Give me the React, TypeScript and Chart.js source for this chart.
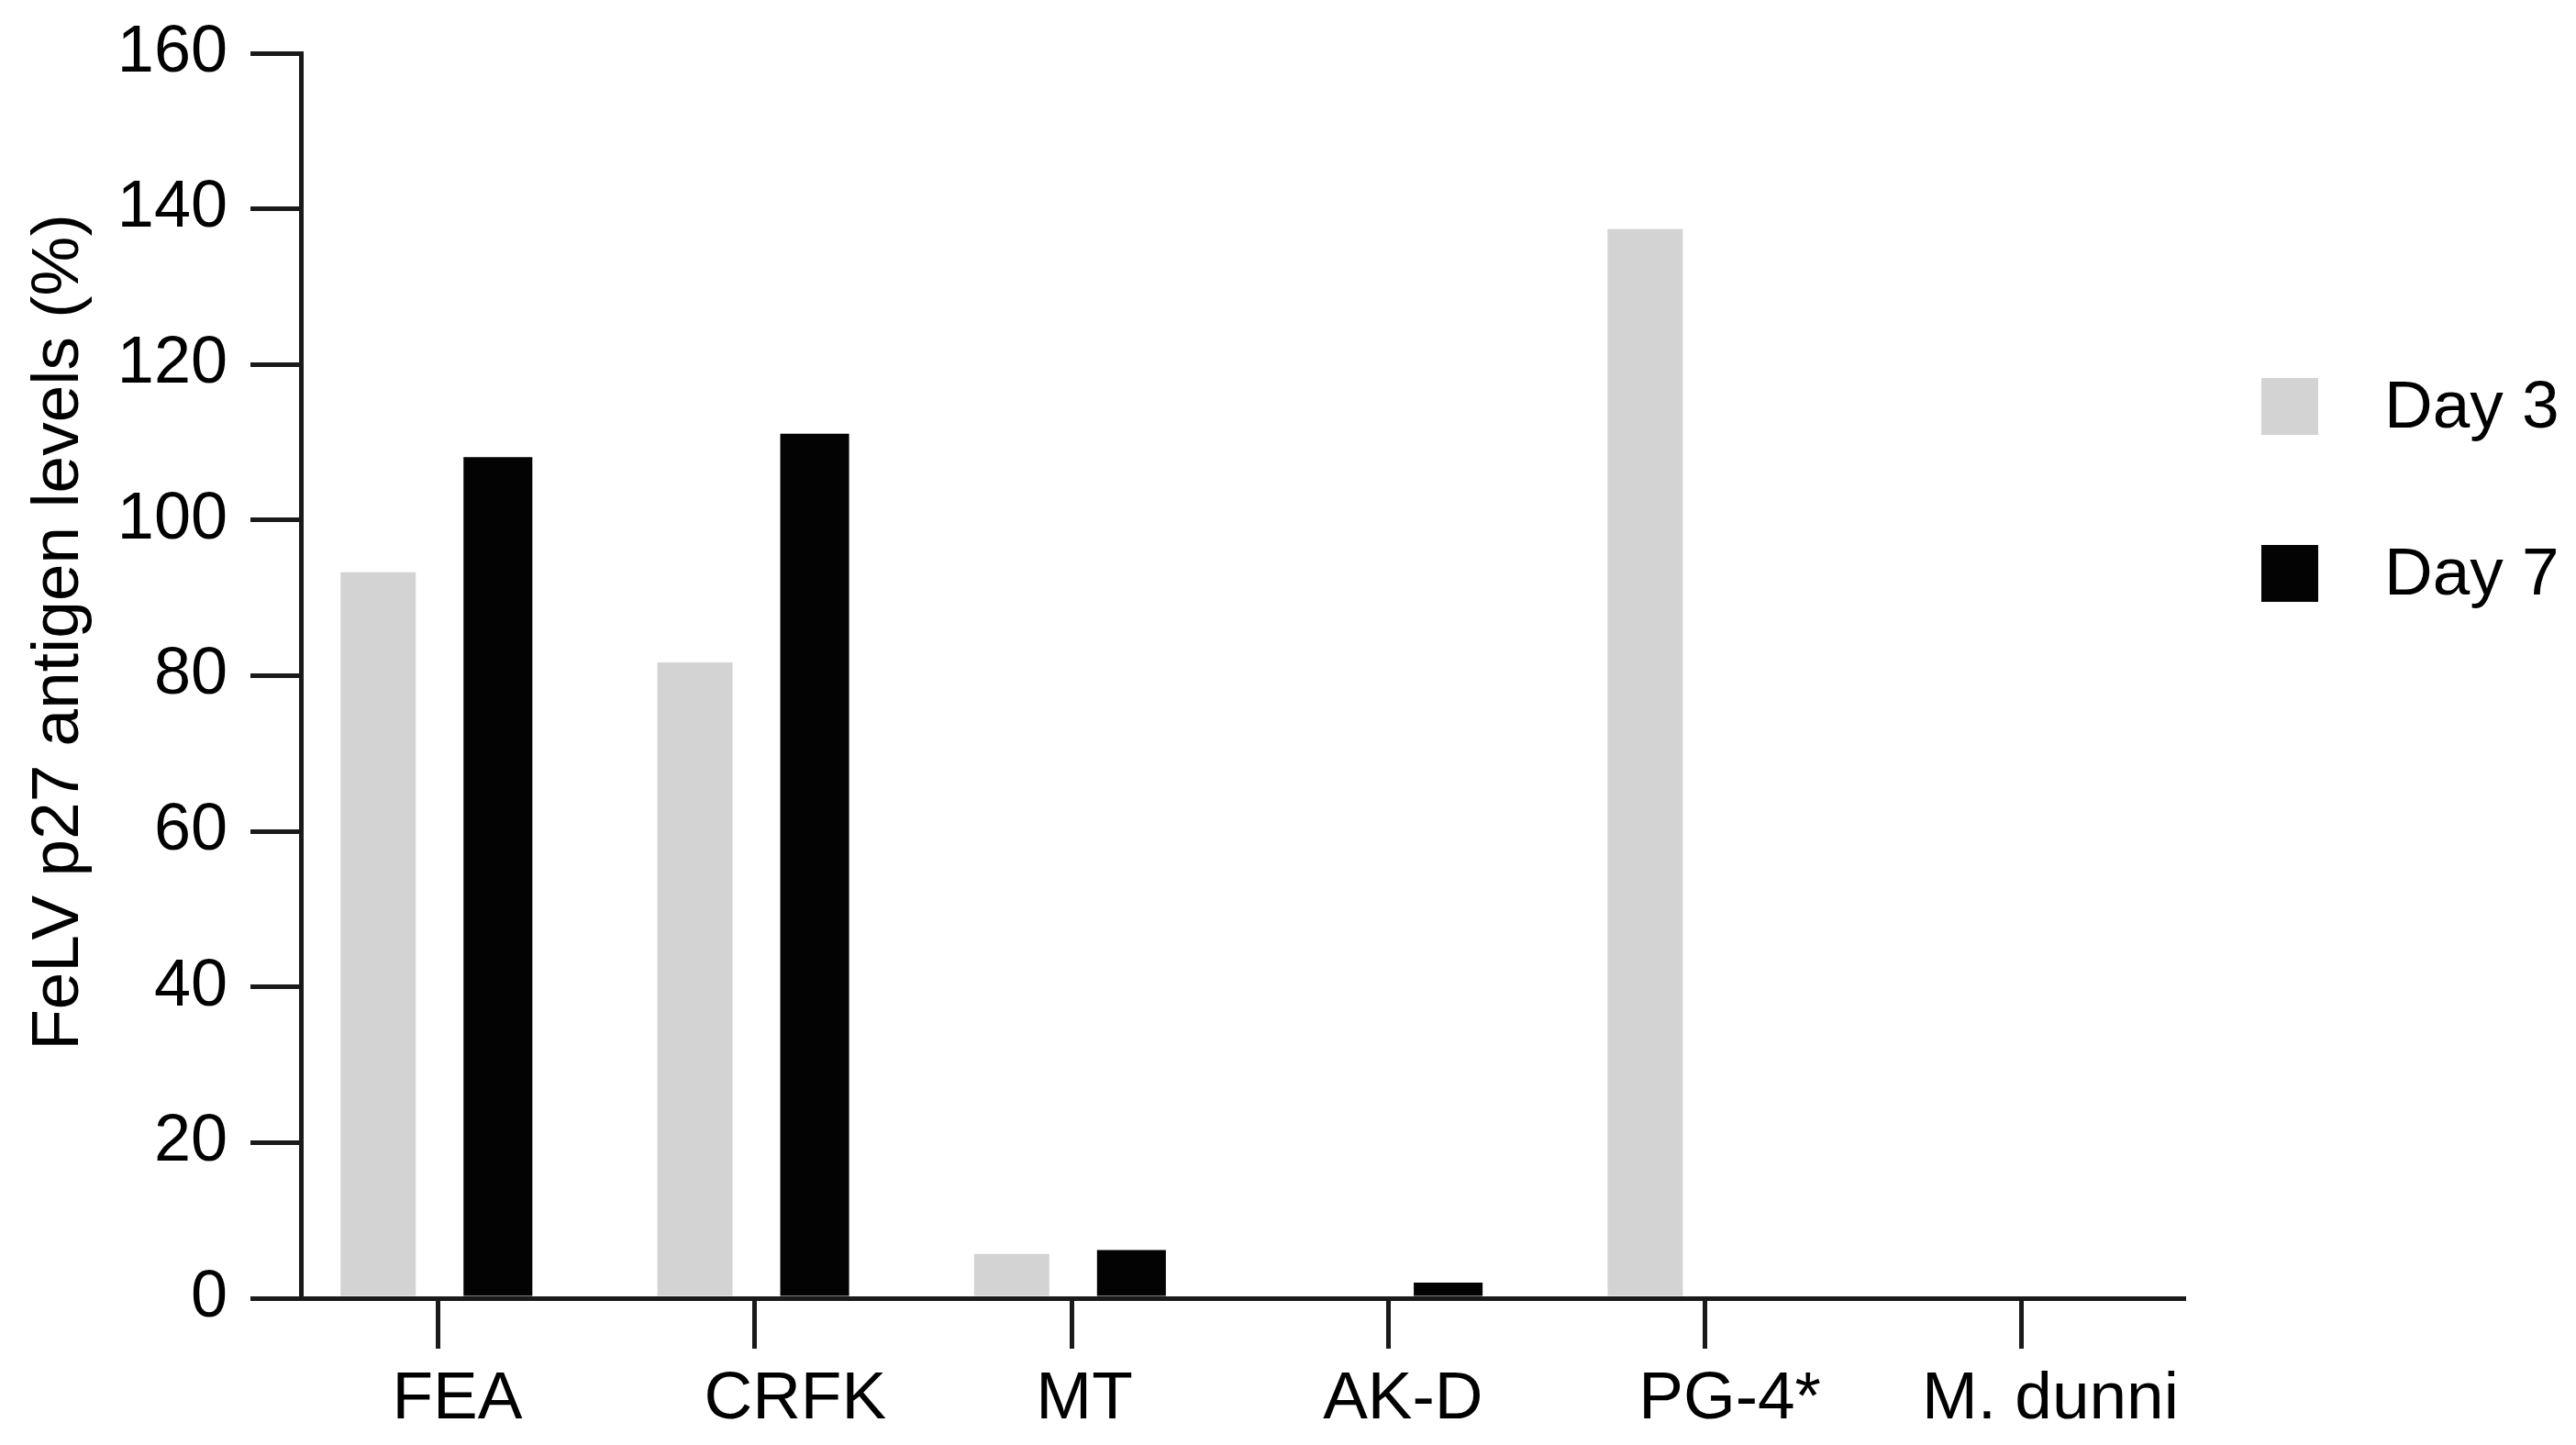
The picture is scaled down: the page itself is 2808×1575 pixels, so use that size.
import React, { useEffect, useRef } from "react";
import Chart from "chart.js/auto";

// values
const categories = ["FEA", "CRFK", "MT", "AK-D", "PG-4*", "M. dunni"];
const day3Values = [93.3, 81.7, 5.7, 0, 137.4, 0];
const day7Values = [108.1, 111.1, 6.2, 2.0, 0, 0];
const seriesLabels = ["Day 3", "Day 7"];
const yTitle = "FeLV p27 antigen levels (%)";

// the category labels in the source sit a little right of their tick marks
const labelNudgePx = [21, 44, 14, 16, 27, 31];
const pxPerCategory = 345.3;

const fontFamily = '"Liberation Sans", Arial, Helvetica, sans-serif';
const axisColor = "#1a1a1a";
const textColor = "#000000";
const day3Color = "#d3d3d3";
const day7Color = "#030303";
const xMin = -0.433;
const xMax = 5.51;

// y axis title and legend, drawn outside the plot area
const sidePlugin = {
  id: "sidePlugin",
  afterDraw(chart: Chart) {
    const { ctx } = chart;
    ctx.save();
    ctx.fillStyle = textColor;
    ctx.font = `73px ${fontFamily}`;
    ctx.translate(85, 689);
    ctx.rotate(-Math.PI / 2);
    ctx.textAlign = "center";
    ctx.textBaseline = "alphabetic";
    ctx.fillText(yTitle, 0, 0);
    ctx.restore();

    ctx.save();
    chart.data.datasets.forEach((ds, i) => {
      const top = 412 + i * 182;
      ctx.fillStyle = ds.backgroundColor as string;
      ctx.fillRect(2465, top, 62, 62);
      ctx.fillStyle = textColor;
      ctx.font = `73px ${fontFamily}`;
      ctx.textAlign = "left";
      ctx.textBaseline = "middle";
      ctx.fillText(ds.label ?? "", 2599, top + 34);
    });
    ctx.restore();
  },
};

const FelvBarChart: React.FC = () => {
  const chartRef = useRef<HTMLCanvasElement>(null);
  const chartInstance = useRef<Chart | null>(null);

  useEffect(() => {
    if (chartRef && chartRef.current) {
      const ctx = chartRef.current.getContext("2d");
      if (ctx) {
        if (chartInstance.current) {
          chartInstance.current.destroy();
        }
        chartInstance.current = new Chart(ctx, {
          type: "bar",
          data: {
            datasets: [
              {
                label: seriesLabels[0],
                data: day3Values.map((v, i) => ({ x: i, y: v })),
                backgroundColor: day3Color,
                categoryPercentage: 0.756,
                barPercentage: 0.628,
              },
              {
                label: seriesLabels[1],
                data: day7Values.map((v, i) => ({ x: i, y: v })),
                backgroundColor: day7Color,
                categoryPercentage: 0.756,
                barPercentage: 0.575,
              },
            ],
          },
          options: {
            animation: false,
            responsive: true,
            maintainAspectRatio: false,
            layout: {
              padding: { top: 58, right: 428, bottom: 0, left: 0 },
            },
            plugins: {
              legend: { display: false },
              tooltip: { enabled: false },
            },
            scales: {
              // axis line and tick marks
              x: {
                type: "linear",
                min: xMin,
                max: xMax,
                offset: false,
                weight: 0,
                afterBuildTicks: (scale) => {
                  scale.ticks = categories.map((_, i) => ({ value: i }));
                },
                afterFit: (scale) => {
                  scale.height = 55;
                  scale.paddingLeft = 0;
                  scale.paddingRight = 0;
                },
                grid: {
                  offset: false,
                  drawOnChartArea: false,
                  drawTicks: true,
                  tickLength: 55,
                  lineWidth: 5,
                  color: axisColor,
                },
                border: { display: true, color: axisColor, width: 5 },
                ticks: { display: false },
              },
              // category names
              xLabels: {
                type: "linear",
                axis: "x",
                position: "bottom",
                min: xMin,
                max: xMax,
                offset: false,
                weight: 1,
                afterBuildTicks: (scale) => {
                  scale.ticks = categories.map((_, i) => ({
                    value: i + labelNudgePx[i] / pxPerCategory,
                  }));
                },
                afterFit: (scale) => {
                  scale.height = 105;
                  scale.paddingLeft = 0;
                  scale.paddingRight = 0;
                },
                grid: { display: false },
                border: { display: false },
                ticks: {
                  autoSkip: false,
                  maxRotation: 0,
                  minRotation: 0,
                  padding: 4,
                  color: textColor,
                  font: { family: fontFamily, size: 73 },
                  callback: (_value, index) => categories[index] ?? "",
                },
              },
              y: {
                min: 0,
                max: 160,
                afterFit: (scale) => {
                  scale.width = 328;
                  scale.paddingTop = 0;
                  scale.paddingBottom = 0;
                },
                grid: {
                  drawOnChartArea: false,
                  drawTicks: true,
                  tickLength: 55,
                  lineWidth: 5,
                  color: axisColor,
                },
                border: { display: true, color: axisColor, width: 5 },
                ticks: {
                  stepSize: 20,
                  padding: 25,
                  color: textColor,
                  font: { family: fontFamily, size: 72 },
                },
              },
            },
          },
          plugins: [sidePlugin],
        });
      }
    }

    return () => {
      if (chartInstance.current) {
        chartInstance.current.destroy();
        chartInstance.current = null;
      }
    };
  }, []);

  return (
    <div
      style={{
        position: "fixed",
        left: 0,
        top: 0,
        width: 2808,
        height: 1575,
        background: "#ffffff",
      }}
    >
      <canvas ref={chartRef} />
    </div>
  );
};

export default function App() {
  return <FelvBarChart />;
}
